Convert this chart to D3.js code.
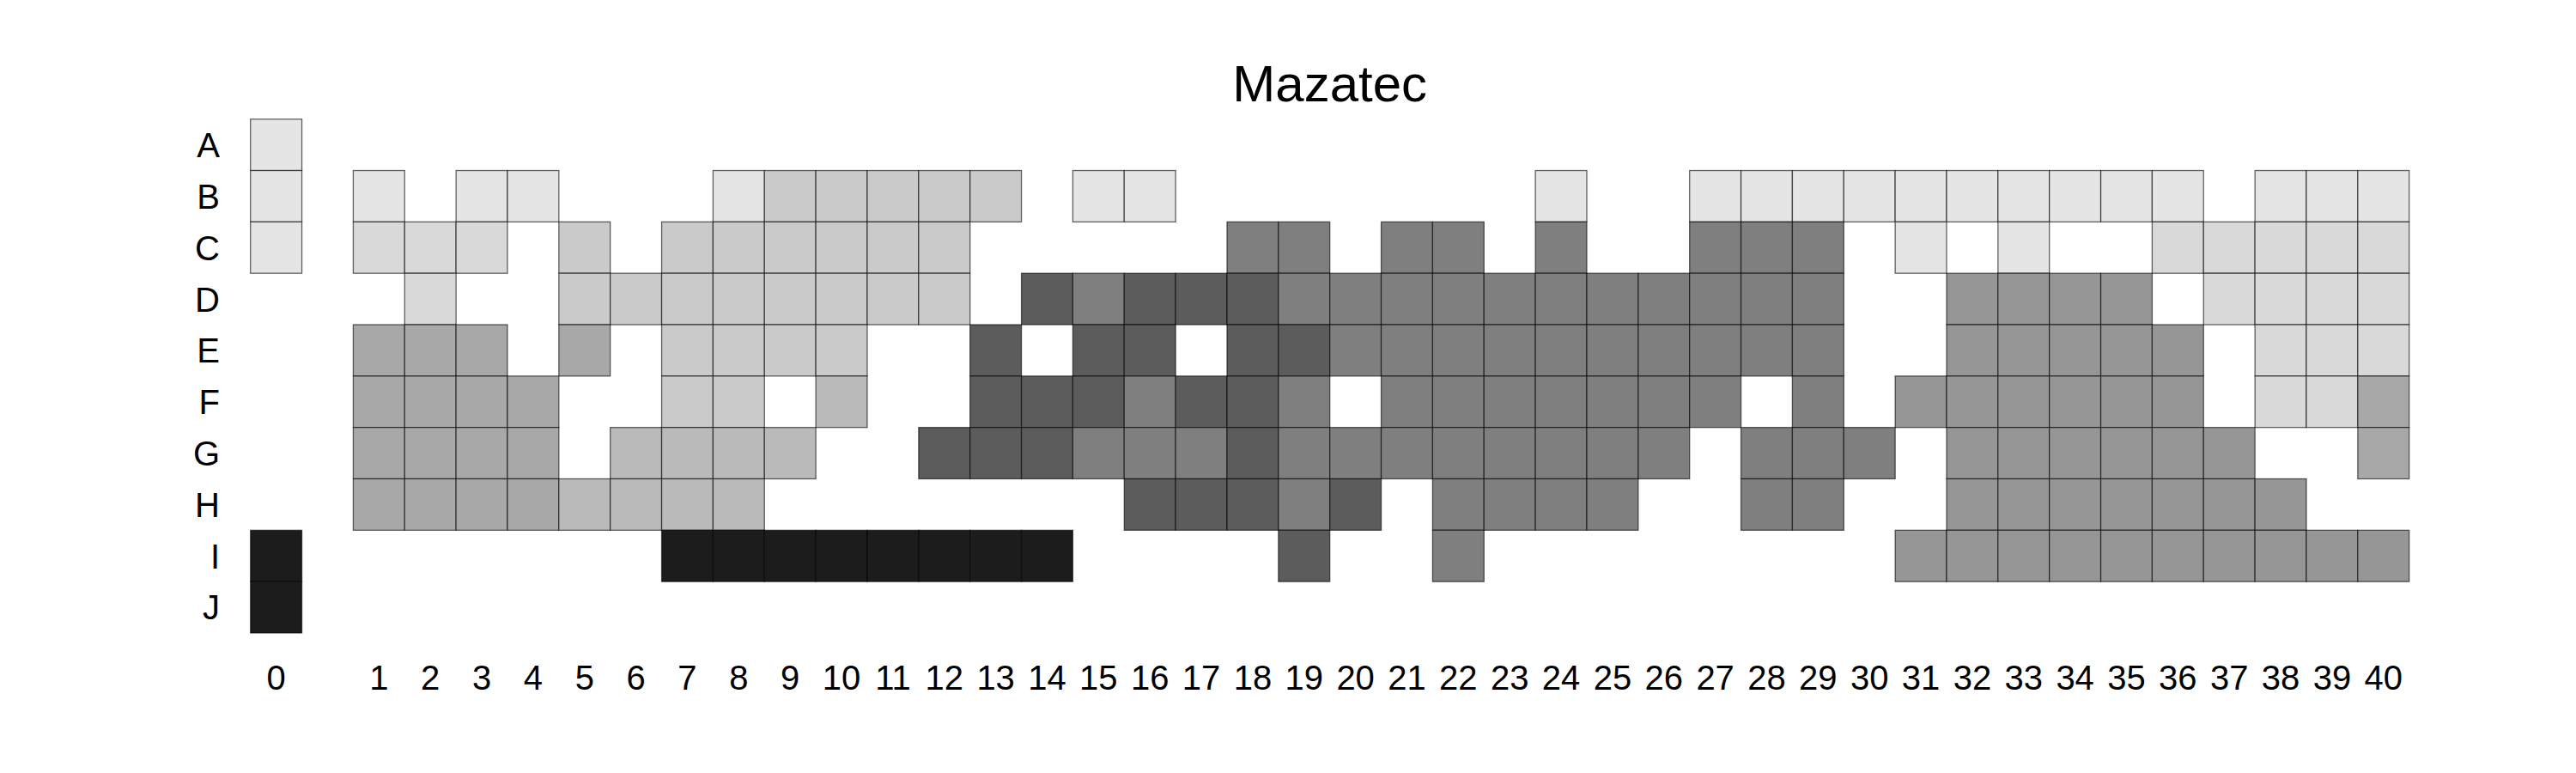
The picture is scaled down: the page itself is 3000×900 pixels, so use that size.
<!DOCTYPE html>
<html>
<head>
<meta charset="utf-8">
<script src="https://cdn.jsdelivr.net/npm/d3@7"></script>
<style>
  html, body { margin: 0; padding: 0; background: #fff; }
  text { font-family: "Liberation Sans", Arial, Helvetica, sans-serif; fill: #000; }
</style>
</head>
<body>
<svg id="chart" width="3000" height="900"></svg>
<script>
// ---- data ----
const title = "Mazatec";
const rowLabels = ["A","B","C","D","E","F","G","H","I","J"];
const colLabels = d3.range(0, 41).map(String);
// gray classes (1 = darkest ... 9 = lightest), 0 = no chip
const grayPalette = {1:"#1c1c1c",2:"#5c5c5c",3:"#7f7f7f",4:"#969696",5:"#a8a8a8",6:"#bababa",7:"#cacaca",8:"#d9d9d9",9:"#e5e5e5"};
// each row: column 0, then columns 1-10, 11-20, 21-30, 31-40
const rowA = [9, 0,0,0,0,0,0,0,0,0,0, 0,0,0,0,0,0,0,0,0,0, 0,0,0,0,0,0,0,0,0,0, 0,0,0,0,0,0,0,0,0,0];
const rowB = [9, 9,0,9,9,0,0,0,9,7,7, 7,7,7,0,9,9,0,0,0,0, 0,0,0,9,0,0,9,9,9,9, 9,9,9,9,9,9,0,9,9,9];
const rowC = [9, 8,8,8,0,7,0,7,7,7,7, 7,7,0,0,0,0,0,3,3,0, 3,3,0,3,0,0,3,3,3,0, 9,0,9,0,0,8,8,8,8,8];
const rowD = [0, 0,8,0,0,7,7,7,7,7,7, 7,7,0,2,3,2,2,2,3,3, 3,3,3,3,3,3,3,3,3,0, 0,4,4,4,4,0,8,8,8,8];
const rowE = [0, 5,5,5,0,5,0,7,7,7,7, 0,0,2,0,2,2,0,2,2,3, 3,3,3,3,3,3,3,3,3,0, 0,4,4,4,4,4,0,8,8,8];
const rowF = [0, 5,5,5,5,0,0,7,7,0,6, 0,0,2,2,2,3,2,2,3,0, 3,3,3,3,3,3,3,0,3,0, 4,4,4,4,4,4,0,8,8,5];
const rowG = [0, 5,5,5,5,0,6,6,6,6,0, 0,2,2,2,3,3,3,2,3,3, 3,3,3,3,3,3,0,3,3,3, 0,4,4,4,4,4,4,0,0,5];
const rowH = [0, 5,5,5,5,6,6,6,6,0,0, 0,0,0,0,0,2,2,2,3,2, 0,3,3,3,3,0,0,3,3,0, 0,4,4,4,4,4,4,4,0,0];
const rowI = [1, 0,0,0,0,0,0,1,1,1,1, 1,1,1,1,0,0,0,0,2,0, 0,3,0,0,0,0,0,0,0,0, 4,4,4,4,4,4,4,4,4,4];
const rowJ = [1, 0,0,0,0,0,0,0,0,0,0, 0,0,0,0,0,0,0,0,0,0, 0,0,0,0,0,0,0,0,0,0, 0,0,0,0,0,0,0,0,0,0];
const rows = [rowA,rowB,rowC,rowD,rowE,rowF,rowG,rowH,rowI,rowJ];

// ---- build cells ----
const cells = [];
rows.forEach((r, ri) => r.forEach((v, ci) => {
  if (v) cells.push({row: rowLabels[ri], col: colLabels[ci], v});
}));

// column slots: "0", gap, "1".."40"
const slots = ["0", "gap", ...colLabels.slice(1)];

const svg = d3.select("#chart");
svg.append("rect").attr("width", 3000).attr("height", 900).attr("fill", "#fff");

const x = d3.scaleBand().domain(slots).range([291.7, 2805.7]).padding(0);
const y = d3.scaleBand().domain(rowLabels).range([138.7, 737.0]).padding(0);

svg.append("g").selectAll("rect").data(cells).join("rect")
  .attr("x", d => x(d.col))
  .attr("y", d => y(d.row))
  .attr("width", x.bandwidth())
  .attr("height", y.bandwidth())
  .attr("fill", d => grayPalette[d.v])
  .attr("stroke", "#000")
  .attr("stroke-opacity", 0.6)
  .attr("stroke-width", 1.3);

// bottom axis labels
const xAxis = d3.axisBottom(x).tickValues(colLabels).tickSize(0).tickPadding(0);
const gx = svg.append("g").attr("transform", "translate(0,803)").call(xAxis);
gx.select(".domain").remove();
gx.selectAll("text").attr("dy", 0).attr("y", 0)
  .style("font-size", "40px").style("font-family", "Liberation Sans, Arial, sans-serif").attr("fill", "#000");

// left axis labels
const yAxis = d3.axisLeft(y).tickSize(0).tickPadding(0);
const gy = svg.append("g").attr("transform", "translate(256,0)").call(yAxis);
gy.select(".domain").remove();
gy.selectAll("text").attr("dy", "0.36em").attr("x", 0)
  .style("font-size", "40px").style("font-family", "Liberation Sans, Arial, sans-serif").attr("fill", "#000");

// title
svg.append("text").attr("x", (291.7 + 2805.7) / 2).attr("y", 118)
  .attr("text-anchor", "middle").style("font-size", "60px").text(title);
</script>
</body>
</html>
